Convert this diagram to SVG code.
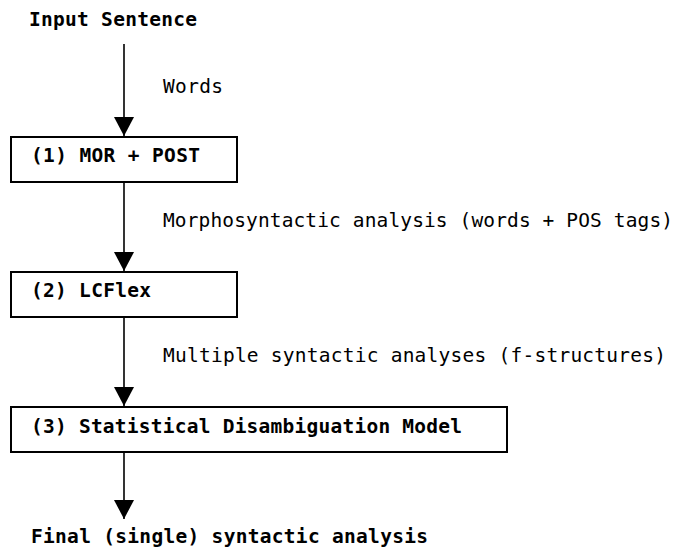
<svg xmlns="http://www.w3.org/2000/svg" width="680" height="549" viewBox="0 0 680 549">
  <style>
    text { font-family: "DejaVu Sans Mono", "Liberation Mono", monospace; font-size: 19.5px; fill: #000; }
    .b { font-weight: bold; }
    .box { fill: #fff; stroke: #000; stroke-width: 2; }
    .edge { stroke: #000; stroke-width: 1.6; fill: none; }
  </style>
  <defs>
    <marker id="ah" markerUnits="userSpaceOnUse" markerWidth="20" markerHeight="20" viewBox="0 0 20 20" refX="19" refY="10" orient="auto">
      <polygon points="0,0 19,10 0,20" fill="#000"/>
    </marker>
  </defs>
  <rect width="680" height="549" fill="#fff"/>

  <g id="connectors">
    <line class="edge" x1="124" y1="44" x2="124" y2="136" marker-end="url(#ah)"/>
    <line class="edge" x1="124" y1="182" x2="124" y2="271" marker-end="url(#ah)"/>
    <line class="edge" x1="124" y1="317" x2="124" y2="406" marker-end="url(#ah)"/>
    <line class="edge" x1="124" y1="452" x2="124" y2="519" marker-end="url(#ah)"/>
    <text x="163" y="93" textLength="60" lengthAdjust="spacing">Words</text>
    <text x="163" y="227" textLength="510" lengthAdjust="spacing">Morphosyntactic analysis (words + POS tags)</text>
    <text x="163" y="362" textLength="503" lengthAdjust="spacing">Multiple syntactic analyses (f-structures)</text>
  </g>

  <g id="input">
    <text class="b" x="29" y="26" textLength="168" lengthAdjust="spacing">Input Sentence</text>
  </g>

  <g id="node1">
    <rect class="box" x="11" y="137" width="226" height="45"/>
    <text class="b" x="31" y="162" textLength="169" lengthAdjust="spacing">(1) MOR + POST</text>
  </g>

  <g id="node2">
    <rect class="box" x="11" y="272" width="226" height="45"/>
    <text class="b" x="31" y="297" textLength="120" lengthAdjust="spacing">(2) LCFlex</text>
  </g>

  <g id="node3">
    <rect class="box" x="11" y="407" width="496" height="45"/>
    <text class="b" x="31" y="433" textLength="431" lengthAdjust="spacing">(3) Statistical Disambiguation Model</text>
  </g>

  <g id="output">
    <text class="b" x="31" y="543" textLength="397" lengthAdjust="spacing">Final (single) syntactic analysis</text>
  </g>
</svg>
